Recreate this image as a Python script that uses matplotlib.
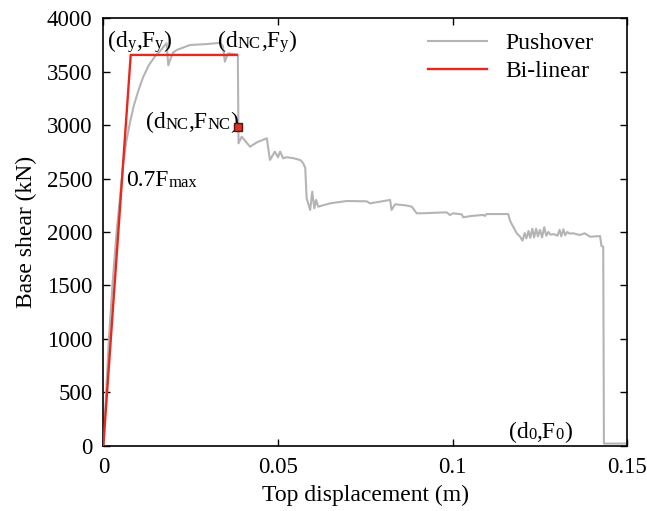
import matplotlib
matplotlib.use("Agg")
import matplotlib.pyplot as plt

plt.rcParams["font.family"] = ["Liberation Serif", "DejaVu Serif"]

# pushover curve
push_d = [
    0, 0.0008, 0.0016, 0.0026, 0.0038, 0.0050, 0.0057, 0.0066, 0.0076, 0.0087,
    0.0100, 0.0114, 0.0130, 0.0147, 0.0162, 0.0174, 0.0181, 0.0186, 0.0192,
    0.0200, 0.0210, 0.0248, 0.0296, 0.0334, 0.0342, 0.0348, 0.0353, 0.0358,
    0.0382, 0.0385, 0.0387, 0.0396, 0.0420, 0.0440, 0.0468, 0.0477, 0.0491,
    0.0500, 0.0506, 0.0515, 0.0525, 0.0545, 0.0563, 0.0568, 0.0572, 0.0578,
    0.0582, 0.0592, 0.0598, 0.0604, 0.0609, 0.0615, 0.0649, 0.0697, 0.0754,
    0.0763, 0.0821, 0.0825, 0.0835, 0.0864, 0.0883, 0.0897, 0.0911, 0.0983,
    0.0992, 0.1002, 0.1026, 0.1030, 0.1054, 0.1088, 0.1092, 0.1097, 0.1159,
    0.1165, 0.1183, 0.1192, 0.1200, 0.1206, 0.1211, 0.1217, 0.1222, 0.1228,
    0.1233, 0.1239, 0.1244, 0.1250, 0.1256, 0.1262, 0.1268, 0.1274, 0.1280,
    0.1290, 0.1300, 0.1306, 0.1311, 0.1317, 0.1322, 0.1328, 0.1335, 0.1345,
    0.1364, 0.1378, 0.1393, 0.1422, 0.1426, 0.1431, 0.1433, 0.1500,
]
push_f = [
    0, 500, 1000, 1500, 2000, 2400, 2640, 2850, 3020, 3180,
    3320, 3450, 3560, 3640, 3690, 3740, 3766, 3560, 3620,
    3680, 3703, 3750, 3759, 3770, 3740, 3594, 3640, 3672,
    3660, 3660, 2830, 2892, 2798, 2840, 2877, 2674, 2752,
    2700, 2752, 2690, 2700, 2690, 2674, 2660, 2643, 2600,
    2315, 2206, 2377, 2222, 2300, 2237, 2268, 2290, 2287,
    2268, 2300, 2206, 2259, 2250, 2237, 2175, 2175, 2184,
    2159, 2175, 2165, 2137, 2150, 2160, 2150, 2168, 2168,
    2100, 1990, 1960, 1919, 1990, 1940, 2010, 1945, 2030,
    1950, 2030, 1960, 2020, 1950, 2045, 1965, 2000, 1975,
    1980, 1965, 2020, 1960, 2025, 1970, 2000, 1985, 1988,
    1972, 1988, 1956, 1962, 1869, 1862, 20, 20,
]

# bi-linear idealisation
bilin_d = [0, 0.00784, 0.0382]
bilin_f = [0, 3657, 3657]

# collapse point (dNC, FNC)
nc_d = [0.0386]
nc_f = [2980]

x_ticks = [0, 0.05, 0.1, 0.15]
x_tick_labels = ["0", "0.05", "0.1", "0.15"]
y_ticks = [0, 500, 1000, 1500, 2000, 2500, 3000, 3500, 4000]


def pieced_label(ax, x, y, parts):
    # big/small text pieces sharing a common bottom, like the original labels
    text, size = parts[0]
    t = ax.text(x, y, text, fontsize=size, ha="left", va="baseline")
    for text, size in parts[1:]:
        t = ax.annotate(text, xy=(1, 0), xycoords=t, fontsize=size,
                        ha="left", va="bottom")
    return t


fig = plt.figure(figsize=(6.47, 5.11), dpi=100)
ax = fig.add_axes([0.1597, 0.1278, 0.8099, 0.8364])

ax.plot(push_d, push_f, color="#b4b4b4", lw=1.5, label="Pushover", zorder=2)
ax.plot(bilin_d, bilin_f, color="#e8281e", lw=1.7, label="Bi-linear", zorder=3)
ax.plot(nc_d, nc_f, ls="none", marker="s", ms=6, mfc="#e03020",
        mec="#4a1a10", mew=1.0, zorder=4)

big, small = 17, 12
pieced_label(ax, 0.0013, 3731, [("(d", big), ("y", small), (",F", big),
                                 ("y", small), (")", big)])
pieced_label(ax, 0.0328, 3731, [("(d", big), ("NC", small), (",F", big),
                                 ("y", small), (")", big)])
pieced_label(ax, 0.0121, 2973, [("(d", big), ("NC", small), (",F", big),
                                 ("NC", small), (")", big)])
pieced_label(ax, 0.0065, 2430, [("0.7F", big), ("max", small)])
pieced_label(ax, 0.1160, 72, [("(d", big), ("0", small), (",F", big),
                               ("0", small), (")", big)])

ax.set_xlim(0, 0.15)
ax.set_ylim(0, 4000)
ax.set_xticks(x_ticks)
ax.set_xticklabels(x_tick_labels)
ax.set_yticks(y_ticks)
ax.tick_params(direction="in", length=5, width=1, top=True, right=True,
               labelsize=16.5, pad=8)
for spine in ax.spines.values():
    spine.set_linewidth(1.2)

ax.set_xlabel("Top displacement (m)", fontsize=17, labelpad=5)
ax.set_ylabel("Base shear (kN)", fontsize=17, labelpad=7)

ax.legend(loc="upper right", bbox_to_anchor=(0.936, 0.966), frameon=False,
          fontsize=17, handlelength=2.5, handletextpad=0.8, labelspacing=0.25,
          borderpad=0, borderaxespad=0)

fig.savefig("out.png", dpi=100)
